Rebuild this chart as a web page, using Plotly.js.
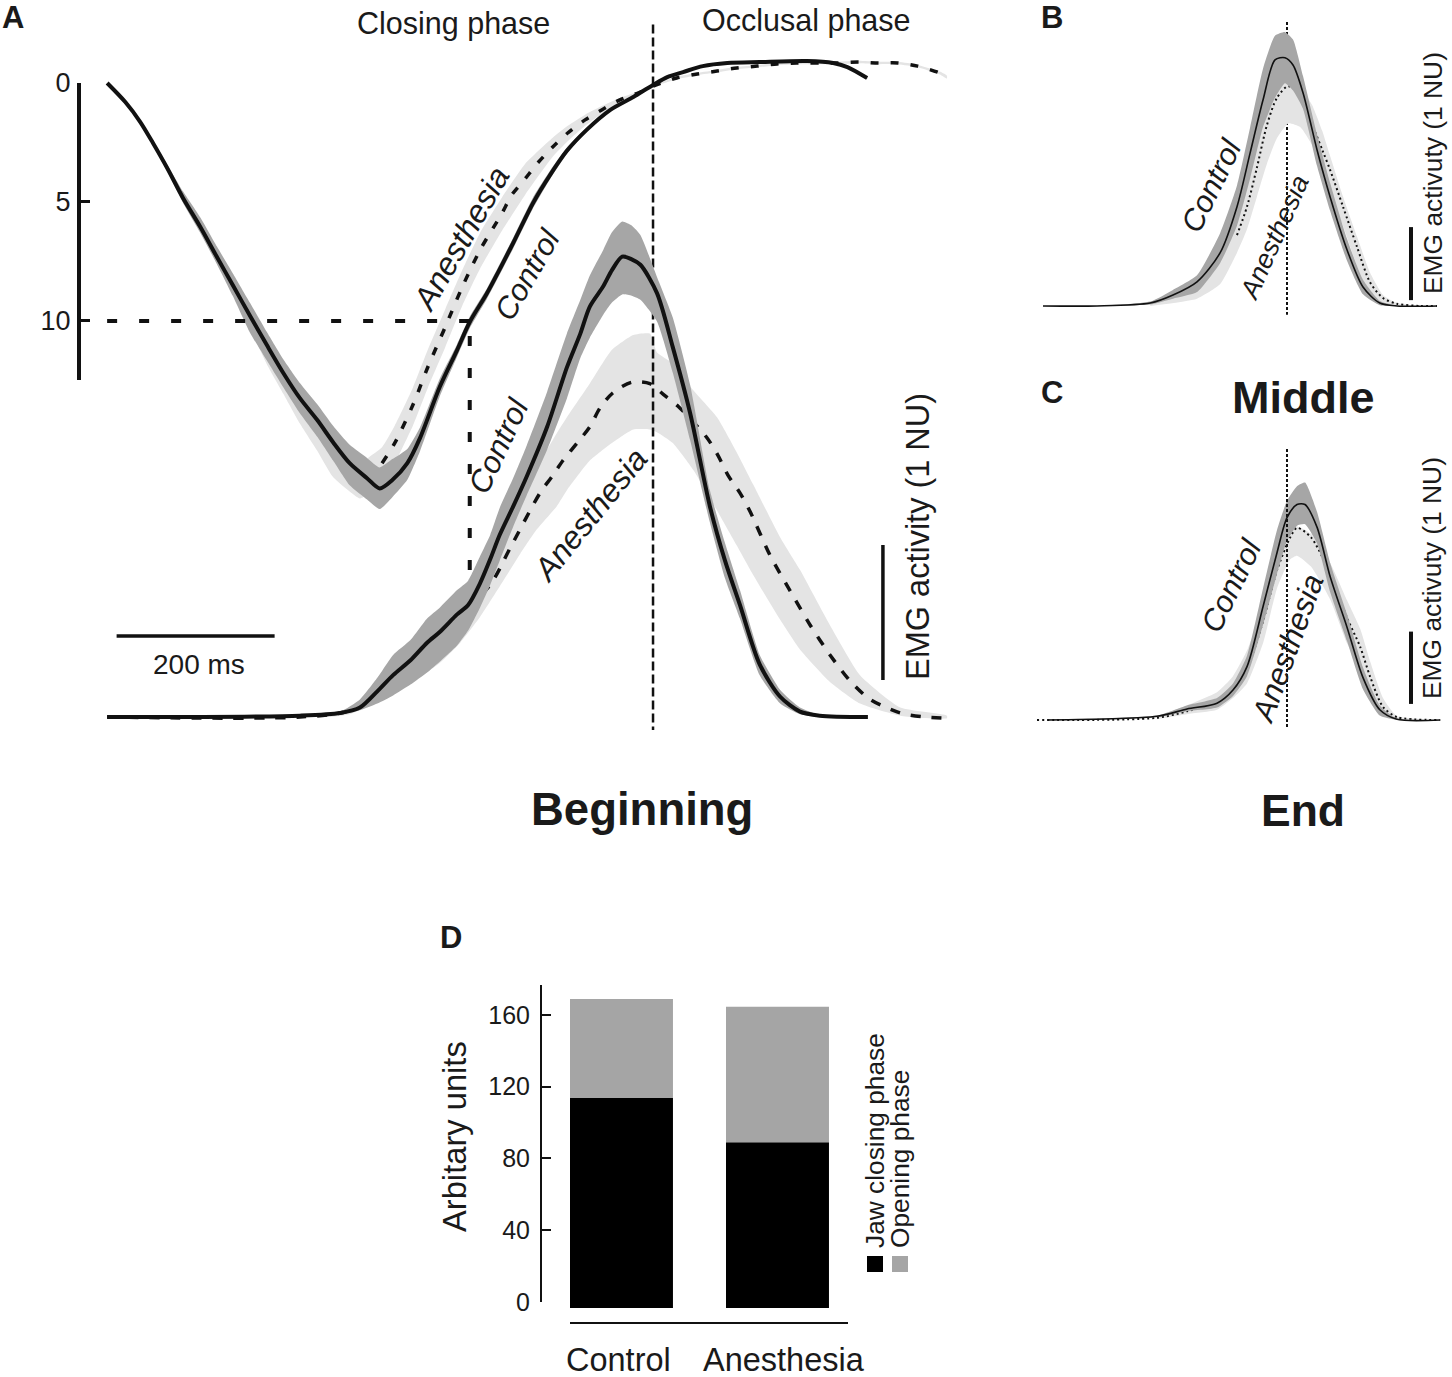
<!DOCTYPE html>
<html>
<head>
<meta charset="utf-8">
<title>Jaw movement and EMG activity</title>
<script src="https://cdn.plot.ly/plotly-3.0.1.min.js"></script>
<style>
body { margin: 0; background: #fff; }
#chart { width: 1452px; height: 1377px; }
</style>
</head>
<body>
<div id="chart"></div>
<script>
// colours used by every panel
var darkBand = '#a6a6a6';
var lightBand = '#e4e4e4';
var ink = '#1a1a1a';
var textFont = 'Liberation Sans, Arial, sans-serif';

// panel A, jaw position (time in ms from occlusion, opening in mm)
var jawCtlT = [-691,-668,-649,-633,-615,-595,-573,-552,-532,-510,-489,-468,-447,-425,-405,-384,-362,-346,-330,-311,-295,-270,-248,-232,-210,-177,-152,-130,-109,-84,-54,-25,0,18,38,63,94,135,195,228,246,271];
var jawCtlMean = [0,0.8,1.64,2.52,3.57,4.83,6.05,7.31,8.49,9.79,11,12.18,13.24,14.16,15.09,15.97,16.6,17.03,16.68,15.97,14.92,12.77,11.22,10.04,8.82,6.72,5.05,3.85,2.85,1.97,1.13,0.59,0.08,-0.25,-0.46,-0.71,-0.84,-0.88,-0.92,-0.84,-0.67,-0.21];
var jawCtlUp = [0,0.75,1.56,2.42,3.42,4.55,5.65,6.87,7.99,9.24,10.45,11.6,12.6,13.5,14.4,15.2,15.75,16.15,15.8,15.37,14.47,12.42,10.97,9.82,8.62,6.5,4.82,3.67,2.71,1.88,1.08,0.55,0.04,-0.29,-0.5,-0.75,-0.88,-0.92,-0.96,-0.88,-0.71,-0.25];
var jawCtlLow = [0,0.85,1.72,2.62,3.7,5.03,6.3,7.61,8.94,10.5,11.65,12.78,13.87,14.86,15.86,16.9,17.5,17.9,17.4,16.67,15.47,13.17,11.5,10.3,9.05,6.95,5.27,4.02,2.98,2.05,1.18,0.63,0.12,-0.21,-0.42,-0.67,-0.8,-0.84,-0.88,-0.8,-0.63,-0.17];

var jawAneT = [-343,-327,-304,-285,-263,-242,-219,-191,-179,-162,-146,-127,-108,-86,-65,-42,-19,0,30,56,81,106,132,157,182,233,260,285,310,335,363,372];
var jawAneMean = [15.97,15.13,13.53,11.93,10.25,8.61,7.02,5.46,4.71,4.03,3.36,2.69,2.1,1.55,1.13,0.71,0.42,0.13,-0.21,-0.38,-0.5,-0.63,-0.71,-0.8,-0.84,-0.84,-0.88,-0.84,-0.84,-0.71,-0.42,-0.25];
var jawAneBandT = [-510,-489,-468,-447,-425,-405,-371,-361,-343,-327,-304,-285,-263,-242,-219,-191,-162,-127,-108,-86,-65,-42,-19,0,30,56,81,106,132,157,182,233,260,285,310,335,363,372];
var jawAneUp = [9.79,11,12.18,13.24,14.16,15.09,16.2,15.76,15.3,14.4,12.8,11.2,9.5,7.9,6.3,4.8,3.4,2.3,1.8,1.33,0.97,0.63,0.36,0.1,-0.26,-0.43,-0.55,-0.68,-0.76,-0.85,-0.89,-0.89,-0.93,-0.89,-0.89,-0.76,-0.48,-0.31];
var jawAneLow = [10.3,11.8,13.05,14.3,15.45,16.55,17.45,17.3,17,16,14.4,12.8,11.1,9.4,7.8,6.2,4.7,3.1,2.45,1.8,1.3,0.8,0.48,0.16,-0.16,-0.33,-0.45,-0.58,-0.66,-0.75,-0.79,-0.79,-0.83,-0.79,-0.79,-0.66,-0.36,-0.19];

var guideAcrossT = [-691,-232];
var guideAcrossMm = [10,10];
var guideDownT = [-232,-232];
var guideDownMm = [10.63,20.54];

// panel A, EMG (NU)
var emgCtlT = [-691,-573,-447,-396,-371,-349,-329,-307,-286,-270,-248,-234,-219,-206,-194,-177,-160,-134,-109,-92,-80,-63,-52,-39,-27,-16,5,25,47,72,91,110,135,161,186,211,272];
var emgCtlMean = [0,0,0.01,0.03,0.07,0.19,0.31,0.42,0.55,0.63,0.76,0.83,0.99,1.17,1.35,1.56,1.78,2.15,2.59,2.84,3.04,3.19,3.31,3.41,3.39,3.35,3.14,2.74,2.25,1.56,1.16,0.83,0.39,0.15,0.04,0.01,0];
var emgCtlUp = [0,0,0.01,0.04,0.13,0.29,0.46,0.57,0.73,0.81,0.94,1.01,1.19,1.35,1.55,1.77,2.01,2.41,2.84,3.09,3.27,3.46,3.59,3.67,3.64,3.57,3.26,2.96,2.46,1.68,1.29,0.94,0.46,0.2,0.07,0.015,0];
var emgCtlLow = [0,0,0.01,0.02,0.05,0.1,0.16,0.24,0.33,0.41,0.53,0.64,0.81,0.98,1.16,1.41,1.64,1.98,2.36,2.66,2.81,2.98,3.07,3.13,3.12,3.09,2.93,2.55,2.05,1.44,1.03,0.73,0.31,0.1,0.02,0,0];

var emgAneT = [-691,-447,-384,-320,-257,-206,-181,-143,-128,-114,-96,-80,-67,-51,-27,-4,13,32,68,82,95,110,123,148,173,199,224,249,275,313,344,372];
var emgAneMean = [0,0,0.05,0.33,0.68,0.98,1.25,1.66,1.78,1.9,2.03,2.15,2.29,2.4,2.48,2.47,2.39,2.3,2.07,1.94,1.79,1.66,1.52,1.2,0.94,0.68,0.46,0.27,0.13,0.03,0,-0.01];
var emgAneBandT = [-409,-384,-320,-270,-244,-219,-197,-168,-147,-122,-109,-80,-52,-25,-4,5,25,51,81,106,127,161,186,224,262,313,372];
var emgAneUp = [0.015,0.05,0.3,0.6,0.8,1,1.2,1.6,1.85,2.1,2.22,2.47,2.72,2.83,2.84,2.7,2.62,2.42,2.22,1.96,1.72,1.33,1.09,0.68,0.31,0.07,0.01];
var emgAneLow = [0,0.02,0.2,0.4,0.55,0.74,0.94,1.21,1.39,1.56,1.68,1.9,2.03,2.13,2.13,2.11,2.03,1.83,1.53,1.27,1.05,0.72,0.5,0.26,0.1,0.01,-0.01];

var occlusionT = [0,0];
var occlusionNu = [5.13,-0.096];
var scaleTimeT = [-679,-479];
var scaleTimeNu = [0.6,0.6];
var scaleEmgT = [291,291];
var scaleEmgNu = [0.274,1.274];

// panel B (middle)
var midCtlT = [-610,-475,-342,-285,-225,-167,-125,-92,-60,-30,-5,15,40,75,108,150,190,232,275,375];
var midCtlMean = [0,0,0.04,0.15,0.33,0.73,1.36,2.1,2.82,3.37,3.4,3.3,2.92,2.14,1.49,0.77,0.26,0.04,0,0];
var midCtlUp = [0,0,0.06,0.22,0.42,1,1.65,2.45,3.25,3.7,3.75,3.65,3.15,2.35,1.68,0.92,0.36,0.07,0.005,0];
var midCtlLow = [0,0,0.02,0.1,0.19,0.59,1.1,1.75,2.45,2.85,3.05,2.95,2.7,1.92,1.3,0.62,0.16,0.01,0,0];
var midAneT = [-125,-100,-75,-50,-25,3,33,63,88,108,140,175,208,240,275,333,375];
var midAneMean = [0.97,1.36,1.9,2.48,2.85,3.01,2.89,2.48,2.14,1.86,1.36,0.81,0.32,0.11,0.03,0,0];
var midAneBandT = [-342,-225,-167,-125,-100,-75,-50,-25,3,33,63,88,108,140,175,208,240,275,333,375];
var midAneUp = [0.04,0.3,0.85,1.3,1.75,2.3,2.8,3.05,3.08,3,2.75,2.4,2.05,1.5,0.95,0.45,0.15,0.04,0,0];
var midAneLow = [0,0.1,0.3,0.73,1.05,1.5,1.95,2.3,2.5,2.45,2.2,1.85,1.55,1.1,0.55,0.15,0.05,0.01,0,0];
var midLineT = [0,0];
var midLineNu = [3.89,-0.12];
var midScaleT = [310,310];
var midScaleNu = [0.08,1.08];

// panel C (end)
var endCtlT = [-600,-325,-250,-175,-135,-100,-60,-25,0,25,45,75,108,150,190,232,275,383];
var endCtlMean = [0,0.05,0.15,0.23,0.41,0.73,1.55,2.29,2.77,2.95,2.95,2.64,1.96,1.27,0.58,0.14,0.01,0];
var endCtlUp = [0,0.06,0.2,0.3,0.5,0.88,1.8,2.6,3,3.2,3.25,2.85,2.15,1.45,0.72,0.2,0.02,0];
var endCtlLow = [0,0.04,0.12,0.17,0.33,0.6,1.3,2,2.45,2.66,2.68,2.42,1.75,1.08,0.42,0.06,0,0];
var endAneT = [-625,-325,-250,-175,-135,-100,-60,-25,8,25,60,108,150,183,208,240,275,383];
var endAneMean = [0,0.03,0.12,0.25,0.42,0.7,1.35,2.05,2.5,2.63,2.5,2,1.4,1,0.59,0.18,0.04,0];
var endAneBandT = [-325,-250,-175,-135,-100,-60,-25,8,25,60,108,150,183,208,240,275,383];
var endAneUp = [0.05,0.2,0.38,0.6,0.95,1.55,2.2,2.6,2.65,2.55,2.15,1.64,1.25,0.8,0.3,0.05,0];
var endAneLow = [0.01,0.08,0.14,0.3,0.5,1.05,1.8,2.2,2.25,2.1,1.65,1.05,0.7,0.38,0.08,0.02,0];
var endLineT = [0,0];
var endLineNu = [3.71,-0.1];
var endScaleT = [310,310];
var endScaleNu = [0.22,1.21];

// panel D
var groups = ['Control','Anesthesia'];
var closingVals = [113.7,89];
var openingVals = [55.2,75.6];
var barFloor = -3.3;

// pixel position on the page -> axis domain
function domX(a,b) { return [a/1452, b/1452]; }
function domY(top,bottom) { return [1-bottom/1377, 1-top/1377]; }

function band(t,up,low,color,xa,ya) {
    return {
        x: t.concat(t.slice().reverse()),
        y: up.concat(low.slice().reverse()),
        xaxis: xa, yaxis: ya,
        mode: 'lines', fill: 'toself', fillcolor: color,
        line: {width: 0, shape: 'spline', smoothing: 0.5}, hoverinfo: 'skip'
    };
}

function curve(t,v,width,dash,xa,ya) {
    return {
        x: t, y: v, xaxis: xa, yaxis: ya, mode: 'lines',
        line: {color: '#111', width: width, dash: dash || 'solid', shape: 'spline', smoothing: 0.8},
        hoverinfo: 'skip'
    };
}

function straight(t,v,width,dash,xa,ya) {
    return {
        x: t, y: v, xaxis: xa, yaxis: ya, mode: 'lines',
        line: {color: '#111', width: width, dash: dash || 'solid'},
        hoverinfo: 'skip'
    };
}

var data = [
    // jaw traces
    band(jawAneBandT,jawAneUp,jawAneLow,lightBand,'x','y'),
    band(jawCtlT,jawCtlUp,jawCtlLow,darkBand,'x','y'),
    curve(jawAneT,jawAneMean,3.5,'8px,12px','x','y'),
    curve(jawCtlT,jawCtlMean,4,'solid','x','y'),
    straight(guideAcrossT,guideAcrossMm,4,'10px,22px','x','y'),
    straight(guideDownT,guideDownMm,4,'10px,22px','x','y'),
    // carries the visible mm axis
    {x: [-691,-691], y: [0,12], xaxis: 'x', yaxis: 'y5', mode: 'lines', line: {width: 0}, hoverinfo: 'skip'},

    // EMG traces
    band(emgAneBandT,emgAneUp,emgAneLow,lightBand,'x','y2'),
    straight(occlusionT,occlusionNu,2.5,'9px,4px','x','y2'),
    curve(emgAneT,emgAneMean,3.5,'10px,11px','x','y2'),
    band(emgCtlT,emgCtlUp,emgCtlLow,darkBand,'x','y2'),
    curve(emgCtlT,emgCtlMean,4,'solid','x','y2'),
    straight(scaleTimeT,scaleTimeNu,3.5,'solid','x','y2'),
    straight(scaleEmgT,scaleEmgNu,3.5,'solid','x','y2'),

    // middle
    straight(midLineT,midLineNu,2,'3px,2px','x2','y3'),
    band(midAneBandT,midAneUp,midAneLow,lightBand,'x2','y3'),
    curve(midAneT,midAneMean,2,'2px,3px','x2','y3'),
    band(midCtlT,midCtlUp,midCtlLow,darkBand,'x2','y3'),
    curve(midCtlT,midCtlMean,1.6,'solid','x2','y3'),
    straight(midScaleT,midScaleNu,4,'solid','x2','y3'),

    // end
    band(endAneBandT,endAneUp,endAneLow,lightBand,'x3','y4'),
    curve(endAneT,endAneMean,2,'2px,3px','x3','y4'),
    band(endCtlT,endCtlUp,endCtlLow,darkBand,'x3','y4'),
    curve(endCtlT,endCtlMean,1.6,'solid','x3','y4'),
    straight(endLineT,endLineNu,2,'3px,2px','x3','y4'),
    straight(endScaleT,endScaleNu,4,'solid','x3','y4'),

    // stacked bars, they sit slightly below the zero tick like the figure
    {
        type: 'bar', x: groups,
        y: closingVals.map(function(v) { return v-barFloor; }),
        base: [barFloor,barFloor],
        width: 0.66, marker: {color: '#000', line: {width: 0}},
        xaxis: 'x4', yaxis: 'y7', hoverinfo: 'skip'
    },
    {
        type: 'bar', x: groups, y: openingVals, base: closingVals,
        width: 0.66, marker: {color: '#a5a5a5', line: {width: 0}},
        xaxis: 'x4', yaxis: 'y7', hoverinfo: 'skip'
    },
    // carries the visible units axis
    {x: groups, y: [0,160], xaxis: 'x4', yaxis: 'y6', mode: 'lines', line: {width: 0}, hoverinfo: 'skip'}
];

function note(text,cx,cy,size,angle,bold,italic) {
    var t = text;
    if (bold) t = '<b>'+t+'</b>';
    if (italic) t = '<i>'+t+'</i>';
    return {
        text: t, xref: 'paper', yref: 'paper',
        x: cx/1452, y: 1-cy/1377,
        xanchor: 'center', yanchor: 'middle',
        showarrow: false, textangle: angle || 0,
        font: {family: textFont, size: size, color: ink}
    };
}

var notes = [
    note('A',13,18,31,0,true),
    note('B',1052,17,31,0,true),
    note('C',1052,393,31,0,true),
    note('D',451,937,31,0,true),
    note('Closing phase',453,23,30.5),
    note('Occlusal phase',806,21,30.5),
    note('200 ms',199,665,28),
    note('EMG activity (1 NU)',918,537,32.5,-90),
    note('Anesthesia',461,239,32,-60,false,true),
    note('Control',527,274,30.5,-60,false,true),
    note('Control',498,446,31,-65,false,true),
    note('Anesthesia',590,515,32,-51,false,true),
    note('Beginning',642,809,45.5,0,true),
    note('Middle',1303,397,45,0,true),
    note('End',1303,810,44.5,0,true),
    note('EMG activuty (1 NU)',1433,173,26.4,-90),
    note('Control',1211,185,30.5,-64,false,true),
    note('Anesthesia',1274,238,26.5,-66,false,true),
    note('EMG activuty (1 NU)',1432,578,26.4,-90),
    note('Control',1231,585,30.5,-64,false,true),
    note('Anesthesia',1287,649,31,-70,false,true),
    note('Arbitary units',454,1137,32.7,-90),
    note(groups[0],618.5,1360,32.5),
    note(groups[1],783.5,1360,32.5),
    note('Jaw closing phase',875,1141,26.3,-90),
    note('Opening phase',900,1159,26.3,-90)
];

function hidden(dom,range) {
    return {domain: dom, range: range, visible: false, fixedrange: true};
}

var layout = {
    width: 1452, height: 1377,
    margin: {l: 0, r: 0, t: 0, b: 0},
    paper_bgcolor: '#fff', plot_bgcolor: 'rgba(0,0,0,0)',
    showlegend: false, hovermode: false, barmode: 'overlay',
    font: {family: textFont, color: ink},
    annotations: notes,
    shapes: [
        {type: 'rect', xref: 'paper', yref: 'paper', x0: 867/1452, x1: 883/1452, y0: 1-1272/1377, y1: 1-1256/1377, fillcolor: '#000', line: {width: 0}},
        {type: 'rect', xref: 'paper', yref: 'paper', x0: 892/1452, x1: 908/1452, y0: 1-1272/1377, y1: 1-1256/1377, fillcolor: '#a5a5a5', line: {width: 0}}
    ],

    xaxis: hidden(domX(0,1000),[-826.6,439.2]),
    yaxis: hidden(domY(0,760),[28.44,-3.487]),
    yaxis2: {domain: domY(0,760), range: [-0.3185,5.311], visible: false, overlaying: 'y', fixedrange: true},
    yaxis5: {
        domain: domY(83,380), range: [12.48,0],
        anchor: 'free', position: 79/1452,
        showline: true, linecolor: '#111', linewidth: 4,
        showgrid: false, zeroline: false,
        tickvals: [0,5,10], ticks: 'inside', ticklen: 9, tickwidth: 3, tickcolor: '#111',
        ticklabelstandoff: 1,
        tickfont: {size: 27, color: ink}, fixedrange: true
    },

    xaxis2: hidden(domX(1000,1452),[-717.5,412.5]),
    yaxis3: Object.assign(hidden(domY(0,340),[-0.466,4.19]), {anchor: 'x2'}),

    xaxis3: hidden(domX(1000,1452),[-717.5,412.5]),
    yaxis4: Object.assign(hidden(domY(430,740),[-0.274,3.97]), {anchor: 'x3'}),

    xaxis4: {
        domain: domX(570,848), range: [-0.33,1.452], type: 'category',
        categoryorder: 'array', categoryarray: groups,
        anchor: 'free', position: 1-1323/1377,
        showline: true, linecolor: '#111', linewidth: 2,
        showgrid: false, ticks: '', showticklabels: false, fixedrange: true
    },
    yaxis6: {
        domain: domY(985,1302), range: [0,176.7],
        anchor: 'free', position: 541/1452,
        showline: true, linecolor: '#111', linewidth: 2,
        showgrid: false, zeroline: false,
        tickvals: [0,40,80,120,160], ticks: 'inside', ticklen: 9, tickwidth: 2, tickcolor: '#111',
        ticklabelstandoff: 5,
        tickfont: {size: 25, color: ink}, fixedrange: true
    },
    // same scale as yaxis6 but reaches past the zero tick so the bars are not cut
    yaxis7: Object.assign(hidden(domY(985,1320),[-10.03,176.7]), {anchor: 'x4'})
};

Plotly.newPlot('chart', data, layout, {displayModeBar: false, staticPlot: true});
</script>
</body>
</html>
